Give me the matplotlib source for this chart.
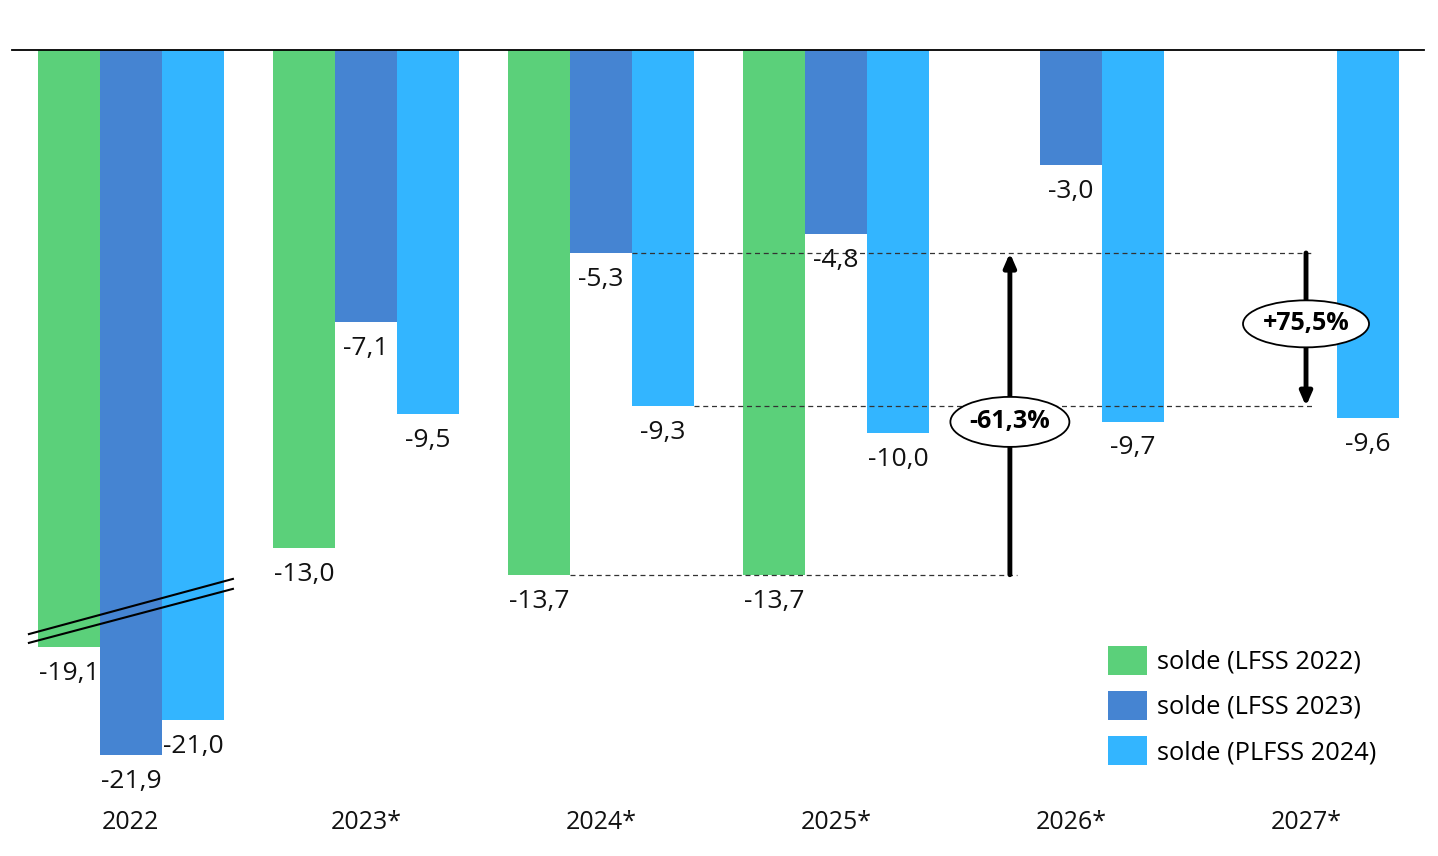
import matplotlib
matplotlib.use("Agg")
import matplotlib.pyplot as plt
from matplotlib.patches import Ellipse
from matplotlib import transforms
import numpy as np

plt.rcParams['font.family'] = ['Open Sans', 'DejaVu Sans']

# ---------------- data ----------------
years = ["2022", "2023*", "2024*", "2025*", "2026*", "2027*"]
series_names = ["solde (LFSS 2022)", "solde (LFSS 2023)", "solde (PLFSS 2024)"]
lfss2022 = [-19.1, -13.0, -13.7, -13.7, None, None]
lfss2023 = [-21.9, -7.1, -5.3, -4.8, -3.0, None]
plfss2024 = [-21.0, -9.5, -9.3, -10.0, -9.7, -9.6]
pct_down_label = "-61,3%"
pct_up_label = "+75,5%"
break_shift = 3.5          # axis break applied to the 2022 group

colors = ["#5BD07A", "#4584D2", "#33B5FF"]

# ---------------- figure ----------------
W, H = 1438, 856
fig = plt.figure(figsize=(W / 100, H / 100), dpi=100)
ax = fig.add_axes([12 / W, 1 - 800 / H, (1424 - 12) / W, 750 / H])
px_per_unit = 38.3
ax.set_ylim(-750 / px_per_unit, 0)
ax.set_xlim(-0.506, 5.502)
for s in ["left", "right", "bottom"]:
    ax.spines[s].set_visible(False)
ax.spines["top"].set_linewidth(1.3)
ax.spines["top"].set_zorder(6)
ax.set_xticks([])
ax.set_yticks([])

bw = 62 / 235
offsets = [-bw, 0, bw]
x = np.arange(len(years))

def shown(v, i):
    return v + break_shift if i == 0 else v

for k, (vals, col, name) in enumerate(zip([lfss2022, lfss2023, plfss2024], colors, series_names)):
    xs, hs, raw = [], [], []
    for i, v in enumerate(vals):
        if v is None:
            continue
        xs.append(x[i] + offsets[k])
        hs.append(shown(v, i))
        raw.append(v)
    ax.bar(xs, hs, width=bw, color=col, label=name, zorder=2)
    for xx, hh, v in zip(xs, hs, raw):
        ax.annotate(f"{v:.1f}".replace(".", ","), (xx, hh), xytext=(0, -19),
                    textcoords="offset points", ha="center", va="center",
                    fontsize=19, color="#111111", zorder=5)

# axis break marks on 2022 group
bx = np.array([-0.434, 0.434])
ax.plot(bx, [-15.25, -13.81], color="black", lw=1.5, zorder=4, clip_on=False)
ax.plot(bx, [-15.48, -14.07], color="black", lw=1.5, zorder=4, clip_on=False)

# dashed reference lines
ref_hi = lfss2023[2]   # -5.3
ref_mid = plfss2024[2]  # -9.3
ref_lo = lfss2022[2]   # -13.7
dash = dict(color="#333333", lw=0.9, ls=(0, (4, 3)), zorder=3)
ax.plot([x[2] + bw / 2, 5.03], [ref_hi, ref_hi], **dash)
ax.plot([x[2] + bw * 1.5, 5.03], [ref_mid, ref_mid], **dash)
ax.plot([x[2] - bw / 2, 3.77], [ref_lo, ref_lo], **dash)

# arrows
a1x = 3.74
a2x = 5.0
arrowprops = dict(arrowstyle="-|>,head_length=0.8,head_width=0.35", color="black",
                  lw=3.5, shrinkA=0, shrinkB=0)
ax.annotate("", xy=(a1x, ref_hi), xytext=(a1x, ref_lo), arrowprops=arrowprops, zorder=4)
ax.annotate("", xy=(a2x, ref_mid), xytext=(a2x, ref_hi), arrowprops=arrowprops, zorder=4)

# ellipse labels
e1 = Ellipse((a1x, -9.71), 119 / 235, 50 / px_per_unit, facecolor="white",
             edgecolor="black", lw=1.3, zorder=7)
e2 = Ellipse((a2x, -7.15), 126 / 235, 47 / px_per_unit, facecolor="white",
             edgecolor="black", lw=1.3, zorder=7)
ax.add_patch(e1)
ax.add_patch(e2)
ax.text(a1x, -9.71, pct_down_label, ha="center", va="center", fontsize=18,
        fontweight="bold", zorder=8)
ax.text(a2x, -7.15, pct_up_label, ha="center", va="center", fontsize=18,
        fontweight="bold", zorder=8)

# year labels
trans = transforms.blended_transform_factory(ax.transData, ax.transAxes)
for i, y in enumerate(years):
    ax.text(x[i], -0.030, y, transform=trans, ha="center", va="center", fontsize=18,
            color="#111111", clip_on=False)

# legend
leg = ax.legend(loc="upper left", bbox_to_anchor=(1100 / W, 1 - 638 / H),
                bbox_transform=fig.transFigure, frameon=False, fontsize=18.3,
                handlelength=1.55, handleheight=1.38, handletextpad=0.4,
                labelspacing=0.64, borderaxespad=0, borderpad=0.3)

fig.savefig("out.png", dpi=100)
